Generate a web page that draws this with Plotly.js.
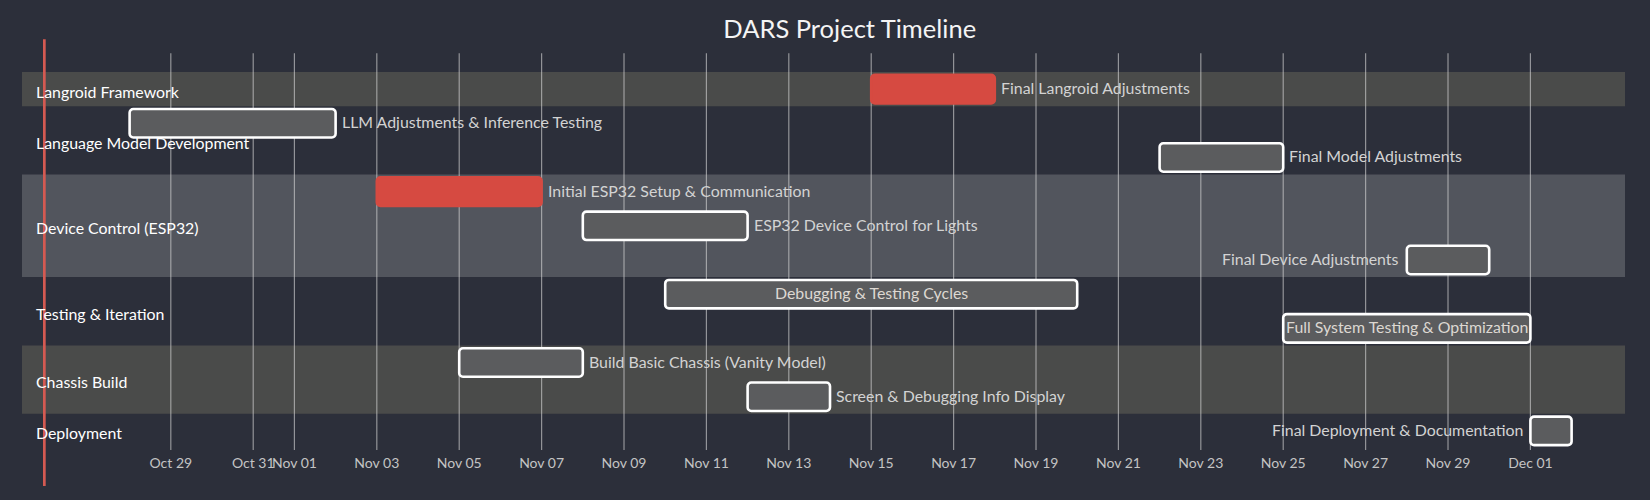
<!DOCTYPE html>
<html><head><meta charset="utf-8">
<script src="https://cdn.plot.ly/plotly-3.0.1.min.js"></script>
<style>html,body{margin:0;padding:0;background:#2c2f3a;overflow:hidden;}</style>
</head><body><div id="chart" style="width:1650px;height:500px;"></div>
<script>
const chartTitle = 'DARS Project Timeline';
const sections = ['Langroid Framework', 'Language Model Development', 'Device Control (ESP32)', 'Testing & Iteration', 'Chassis Build', 'Deployment'];
const taskNames = [
  'Final Langroid Adjustments',
  'LLM Adjustments & Inference Testing',
  'Final Model Adjustments',
  'Initial ESP32 Setup & Communication',
  'ESP32 Device Control for Lights',
  'Final Device Adjustments',
  'Debugging & Testing Cycles',
  'Full System Testing & Optimization',
  'Build Basic Chassis (Vanity Model)',
  'Screen & Debugging Info Display',
  'Final Deployment & Documentation'
];
const taskSection = [0, 1, 1, 2, 2, 2, 3, 3, 4, 4, 5];
const taskStart = ['2024-11-15', '2024-10-28', '2024-11-22', '2024-11-03', '2024-11-08', '2024-11-28', '2024-11-10', '2024-11-25', '2024-11-05', '2024-11-12', '2024-12-01'];
const taskEnd   = ['2024-11-18', '2024-11-02', '2024-11-25', '2024-11-07', '2024-11-12', '2024-11-30', '2024-11-20', '2024-12-01', '2024-11-08', '2024-11-14', '2024-12-02'];
const taskCrit  = [true, false, false, true, false, false, false, false, false, false, false];
const todayMarker = '2024-10-25 22:20';
const tickDates = ['2024-10-29', '2024-10-31', '2024-11-01', '2024-11-03', '2024-11-05', '2024-11-07', '2024-11-09', '2024-11-11', '2024-11-13', '2024-11-15', '2024-11-17', '2024-11-19', '2024-11-21', '2024-11-23', '2024-11-25', '2024-11-27', '2024-11-29', '2024-12-01'];
const tickLabels = ['Oct 29', 'Oct 31', 'Nov 01', 'Nov 03', 'Nov 05', 'Nov 07', 'Nov 09', 'Nov 11', 'Nov 13', 'Nov 15', 'Nov 17', 'Nov 19', 'Nov 21', 'Nov 23', 'Nov 25', 'Nov 27', 'Nov 29', 'Dec 01'];

// ---- layout constants ----
const W = 1650, H = 500;
const M = {l: 22, r: 25, t: 72, b: 52};
const plotW = W - M.l - M.r;
const xRange = ['2024-10-25 09:18:43', '2024-12-03 07:06:14'];
const r0 = Date.parse(xRange[0].replace(' ', 'T') + 'Z');
const r1 = Date.parse(xRange[1].replace(' ', 'T') + 'Z');
const toPx = d => M.l + (Date.parse(d + 'T00:00:00Z') - r0) / (r1 - r0) * plotW;
const svgRight = 22 + 1655;
const padL = 106;

const FONT = 'Lato, "Open Sans", sans-serif';
const fsTask = 15.9;
const canvas = document.createElement('canvas');
const ctx = canvas.getContext('2d');
ctx.font = fsTask + 'px Lato';
const measure = t => ctx.measureText(t).width;

const nTasks = taskNames.length;
const rows = taskNames.map((_, i) => i);
const durations = taskStart.map((s, i) => Date.parse(taskEnd[i]) - Date.parse(s));

const sectionFill = ['#4a4b4a', 'rgba(0,0,0,0)', '#52555d', 'rgba(0,0,0,0)'];
const normalFill = '#5b5c5e', critFill = '#d64a41';

const bars = {
  type: 'bar', orientation: 'h',
  y: rows, base: taskStart, x: durations,
  width: 0.833,
  marker: {
    color: taskCrit.map(c => c ? critFill : normalFill),
    line: {color: taskCrit.map(c => c ? critFill : '#ffffff'), width: 2.6},
    cornerradius: 4
  },
  hoverinfo: 'none', showlegend: false
};

const shapes = [];
// section bands
sections.forEach((s, si) => {
  const idx = rows.filter(i => taskSection[i] === si);
  shapes.push({type: 'rect', xref: 'paper', yref: 'y', x0: 0, x1: 1,
    y0: Math.min(...idx) - 0.5, y1: Math.max(...idx) + 0.5,
    fillcolor: sectionFill[si % 4], line: {width: 0}, layer: 'below'});
});
// grid lines
const plotH = H - M.t - M.b;
const gridTop = (H - M.b - 53.3) / plotH;
const gridBot = (H - M.b - 450) / plotH;
tickDates.forEach(d => {
  shapes.push({type: 'line', xref: 'x', yref: 'paper', x0: d, x1: d, y0: gridBot, y1: gridTop,
    line: {color: 'rgba(211,211,211,0.62)', width: 1.2}, layer: 'below'});
});
// today marker
shapes.push({type: 'line', xref: 'x', yref: 'paper', x0: todayMarker, x1: todayMarker,
  y0: (H - M.b - 486) / plotH, y1: (H - M.b - 39.3) / plotH,
  line: {color: '#d45a52', width: 2.7}, layer: 'below'});

const annotations = [];
// section labels
sections.forEach((s, si) => {
  const idx = rows.filter(i => taskSection[i] === si);
  annotations.push({text: s, xref: 'paper', yref: 'y', x: 0, xanchor: 'left', xshift: 12,
    y: (Math.min(...idx) + Math.max(...idx)) / 2, yanchor: 'middle', yshift: -2,
    showarrow: false, font: {family: FONT, size: fsTask, color: '#ffffff'}});
});
// task labels
taskNames.forEach((t, i) => {
  const sx = toPx(taskStart[i]), ex = toPx(taskEnd[i]);
  const tw = measure(t);
  let a;
  if (tw <= ex - sx) {
    const mid = new Date((Date.parse(taskStart[i]) + Date.parse(taskEnd[i])) / 2).toISOString().slice(0, 19).replace('T', ' ');
    a = {x: mid, xanchor: 'center', xshift: 0, font: {family: FONT, size: fsTask, color: '#ddd8d2'}};
  } else if (ex + tw + 1.5 * padL > svgRight) {
    a = {x: taskStart[i], xanchor: 'right', xshift: -5.5, font: {family: FONT, size: fsTask, color: '#d3d3d3'}};
  } else {
    a = {x: taskEnd[i], xanchor: 'left', xshift: 4, font: {family: FONT, size: fsTask, color: '#d3d3d3'}};
  }
  annotations.push(Object.assign({text: t, xref: 'x', yref: 'y', y: i, yanchor: 'middle', yshift: 1.5, showarrow: false}, a));
});

const layout = {
  width: W, height: H,
  margin: M,
  paper_bgcolor: '#2c2f3a', plot_bgcolor: '#2c2f3a',
  title: {text: chartTitle, x: 849.7 / W, xref: 'container', xanchor: 'center',
    y: 1 - 29.5 / H, yref: 'container', yanchor: 'middle',
    font: {family: FONT, size: 25.5, color: '#f4f4f4'}},
  xaxis: {type: 'date', range: xRange, showgrid: false, zeroline: false, showline: false,
    tickmode: 'array', tickvals: tickDates, ticktext: tickLabels, ticks: '',
    tickangle: 0, ticklabelstandoff: 5,
    tickfont: {family: FONT, size: 14, color: '#c4c4c4'}, fixedrange: true},
  yaxis: {range: [nTasks - 0.5, -0.5], showgrid: false, zeroline: false, showline: false,
    showticklabels: false, ticks: '', fixedrange: true},
  shapes: shapes, annotations: annotations,
  bargap: 0, showlegend: false, hovermode: false
};

Plotly.newPlot('chart', [bars], layout, {displayModeBar: false, staticPlot: true});
</script></body></html>
